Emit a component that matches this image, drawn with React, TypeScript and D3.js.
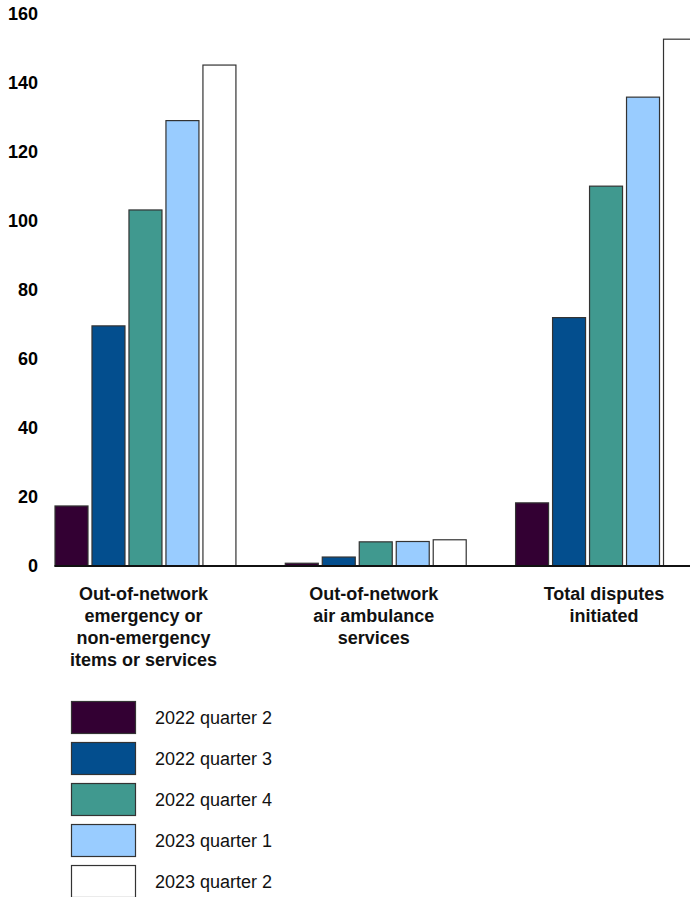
import React from "react";
import * as d3 from "d3";

const categories: string[][] = [
  ["Out-of-network", "emergency or", "non-emergency", "items or services"],
  ["Out-of-network", "air ambulance", "services"],
  ["Total disputes", "initiated"],
];
const seriesNames = ["2022 quarter 2", "2022 quarter 3", "2022 quarter 4", "2023 quarter 1", "2023 quarter 2"];
const seriesColors = ["#330033", "#034E8E", "#40998F", "#99CCFF", "#FFFFFF"];
const q2_2022 = [17.4, 0.8, 18.3];
const q3_2022 = [69.6, 2.6, 72.0];
const q4_2022 = [103.2, 7.0, 110.1];
const q1_2023 = [129.1, 7.1, 135.9];
const q2_2023 = [145.2, 7.6, 152.7];
const seriesValues = [q2_2022, q3_2022, q4_2022, q1_2023, q2_2023];
const yTicks = [0, 20, 40, 60, 80, 100, 120, 140, 160];

const W = 690;
const H = 897;
const FONT = "Liberation Sans, Arial, sans-serif";

export default function App() {
  const groupIdx = categories.map((_, i) => String(i));
  const x0 = d3.scaleBand<string>().domain(groupIdx).range([54.5, 697]).paddingInner(0.21).paddingOuter(0);
  const x1 = d3
    .scaleBand<string>()
    .domain(seriesNames)
    .range([0, x0.bandwidth()])
    .paddingInner(0.081)
    .paddingOuter(0);
  const y = d3.scaleLinear().domain([0, 160]).range([566, 14]);

  const legendY = d3.scaleBand<string>().domain(seriesNames).range([701.5, 897.5]).paddingInner(0.22).paddingOuter(0);

  return (
    <svg
      width={W}
      height={H}
      style={{ position: "absolute", left: 0, top: 0, background: "#fff" }}
      fontFamily={FONT}
    >
      <rect x={0} y={0} width={W} height={H} fill="#fff" />
      {yTicks.map((t) => (
        <text
          key={t}
          x={38}
          y={y(t)}
          dy="0.35em"
          textAnchor="end"
          fontSize={18}
          fontWeight="bold"
          fill="#000"
        >
          {t}
        </text>
      ))}
      {categories.map((_, gi) => (
        <g key={gi} transform={`translate(${x0(String(gi))},0)`}>
          {seriesNames.map((s, si) => {
            const v = seriesValues[si][gi];
            return (
              <rect
                key={s}
                x={(x1(s) as number) + 0.5}
                y={y(v)}
                width={x1.bandwidth() - 1}
                height={y(0) - y(v)}
                fill={seriesColors[si]}
                stroke="#333"
                strokeWidth={1.2}
              />
            );
          })}
        </g>
      ))}
      <line x1={x0.range()[0]} x2={W} y1={y(0)} y2={y(0)} stroke="#111" strokeWidth={2} />
      {categories.map((lines, gi) => {
        const cx = (x0(String(gi)) as number) + x0.bandwidth() / 2 - 2;
        return (
          <text key={gi} textAnchor="middle" fontSize={18} fontWeight="bold" fill="#111">
            {lines.map((ln, li) => (
              <tspan key={li} x={cx} y={600 + li * 22}>
                {ln}
              </tspan>
            ))}
          </text>
        );
      })}
      {seriesNames.map((s, si) => {
        const top = legendY(s) as number;
        return (
          <g key={s}>
            <rect
              x={71.5}
              y={top}
              width={64}
              height={legendY.bandwidth()}
              fill={seriesColors[si]}
              stroke="#333"
              strokeWidth={1.2}
            />
            <text x={155} y={top + legendY.bandwidth() / 2} dy="0.35em" fontSize={18} fill="#111">
              {s}
            </text>
          </g>
        );
      })}
    </svg>
  );
}
